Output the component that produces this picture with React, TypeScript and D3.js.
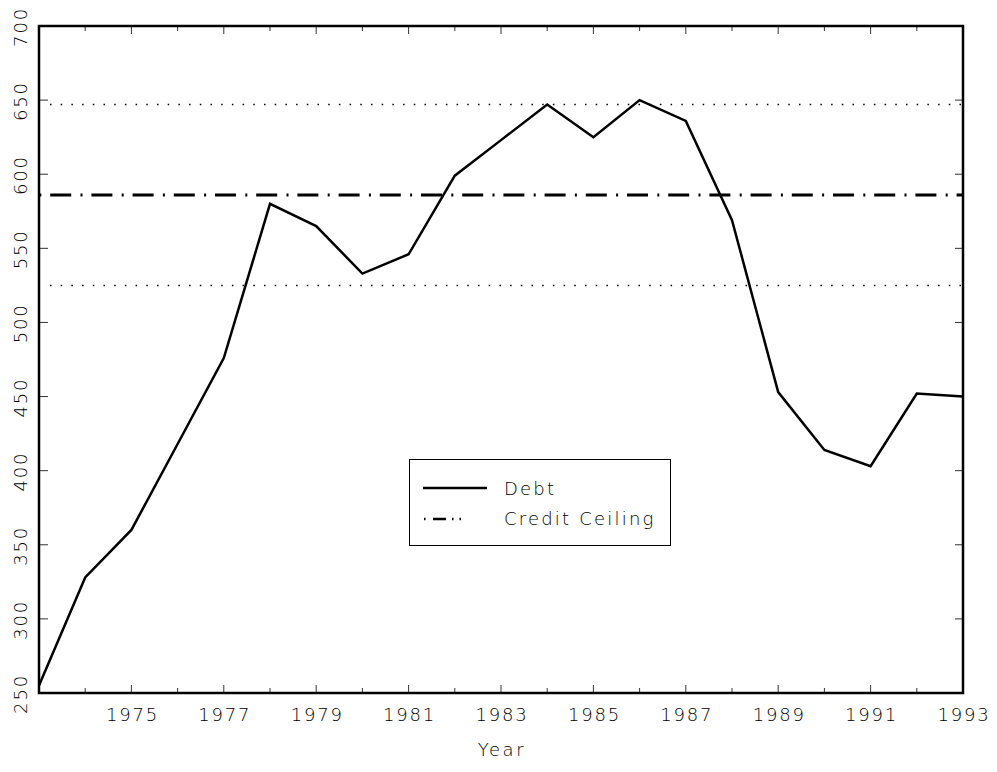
import * as d3 from "d3";
import React, { useRef, useEffect } from "react";

const years = [1973, 1974, 1975, 1976, 1977, 1978, 1979, 1980, 1981, 1982, 1983, 1984, 1985, 1986, 1987, 1988, 1989, 1990, 1991, 1992, 1993];
const debt = [255, 328, 360, 418, 476, 580, 565, 533, 546, 599, 623, 647, 625, 650, 636, 569, 453, 414, 403, 452, 450];
const creditCeiling = 586;
const ceilingBand = [525, 647];
const yTicks = [250, 300, 350, 400, 450, 500, 550, 600, 650, 700];
const xLabels = [1975, 1977, 1979, 1981, 1983, 1985, 1987, 1989, 1991, 1993];
const legendLabels = ["Debt", "Credit Ceiling"];

const WIDTH = 997;
const HEIGHT = 772;
const FONT = "'DejaVu Sans', sans-serif";

const App = () => {
	const svgRef = useRef<SVGSVGElement>(null);

	useEffect(() => {
		const svg = d3.select(svgRef.current);
		svg.selectAll("*").remove();

		const left = 39;
		const right = 963;
		const top = 26;
		const bottom = 693;

		const x = d3.scaleLinear().domain([1973, 1993]).range([left, right]);
		const y = d3.scaleLinear().domain([250, 700]).range([bottom, top]);

		const txt = (sel, ls = 1.8) =>
			sel.attr("font-family", FONT).attr("font-size", 18).attr("font-weight", 200).attr("letter-spacing", ls).attr("fill", "#000");

		// ticks on all four sides, pointing inward
		const allYears = d3.range(1973, 1994);
		allYears.forEach((yr) => {
			const len = yr % 2 === 1 ? 8 : 5;
			svg.append("line").attr("x1", x(yr)).attr("x2", x(yr)).attr("y1", bottom).attr("y2", bottom - len).attr("stroke", "#333").attr("stroke-width", 1);
			svg.append("line").attr("x1", x(yr)).attr("x2", x(yr)).attr("y1", top).attr("y2", top + len).attr("stroke", "#333").attr("stroke-width", 1);
		});
		yTicks.forEach((v) => {
			svg.append("line").attr("x1", left).attr("x2", left + 9).attr("y1", y(v)).attr("y2", y(v)).attr("stroke", "#333").attr("stroke-width", 1);
			svg.append("line").attr("x1", right).attr("x2", right - 8).attr("y1", y(v)).attr("y2", y(v)).attr("stroke", "#333").attr("stroke-width", 1);
		});

		// tick labels
		xLabels.forEach((yr) => {
			svg.append("text").attr("x", x(yr) + 1).attr("y", 721).attr("text-anchor", "middle").text(yr).call(txt);
		});
		yTicks.forEach((v) => {
			svg
				.append("text")
				.attr("transform", `translate(27,${y(v) + 1}) rotate(-90)`)
				.attr("text-anchor", "middle")
				.text(v)
				.call(txt);
		});
		svg.append("text").attr("x", (left + right) / 2 + 1).attr("y", 756).attr("text-anchor", "middle").text("Year").call(txt, 2.6);

		// credit ceiling band (dotted) and ceiling (dash-dot)
		ceilingBand.forEach((v) => {
			svg
				.append("line")
				.attr("x1", left + 11)
				.attr("x2", right)
				.attr("y1", y(v))
				.attr("y2", y(v))
				.attr("stroke", "#000")
				.attr("stroke-width", 1.5)
				.attr("stroke-dasharray", "1.5 9.2");
		});
		svg
			.append("line")
			.attr("x1", left)
			.attr("x2", right)
			.attr("y1", y(creditCeiling))
			.attr("y2", y(creditCeiling))
			.attr("stroke", "#000")
			.attr("stroke-width", 3)
			.attr("stroke-dasharray", "21 9.3 2 8.9")
			.attr("stroke-dashoffset", 30);

		// debt line
		const line = d3
			.line<number>()
			.x((d, i) => x(years[i]))
			.y((d) => y(d));
		svg.append("path").datum(debt).attr("fill", "none").attr("stroke", "#000").attr("stroke-width", 2.5).attr("stroke-linejoin", "miter").attr("d", line);

		// frame
		svg
			.append("rect")
			.attr("x", left)
			.attr("y", top)
			.attr("width", right - left)
			.attr("height", bottom - top)
			.attr("fill", "none")
			.attr("stroke", "#000")
			.attr("stroke-width", 2.5);

		// legend
		const lg = svg.append("g");
		lg.append("rect").attr("x", 409.5).attr("y", 459.5).attr("width", 261).attr("height", 86).attr("fill", "#fff").attr("stroke", "#000").attr("stroke-width", 1);
		lg.append("line").attr("x1", 423).attr("x2", 487).attr("y1", 488).attr("y2", 488).attr("stroke", "#000").attr("stroke-width", 2.5);
		lg
			.append("line")
			.attr("x1", 424)
			.attr("x2", 487)
			.attr("y1", 519)
			.attr("y2", 519)
			.attr("stroke", "#000")
			.attr("stroke-width", 2.5)
			.attr("stroke-dasharray", "1.5 7.5 13 6 1.5 6 1.5 40");
		lg.append("text").attr("x", 504).attr("y", 495).text(legendLabels[0]).call(txt, 2.2);
		lg.append("text").attr("x", 504).attr("y", 525).text(legendLabels[1]).call(txt, 2.2);
	}, []);

	return <svg ref={svgRef} width={WIDTH} height={HEIGHT} style={{ position: "absolute", left: 0, top: 0, background: "#fff" }} />;
};

export default App;
